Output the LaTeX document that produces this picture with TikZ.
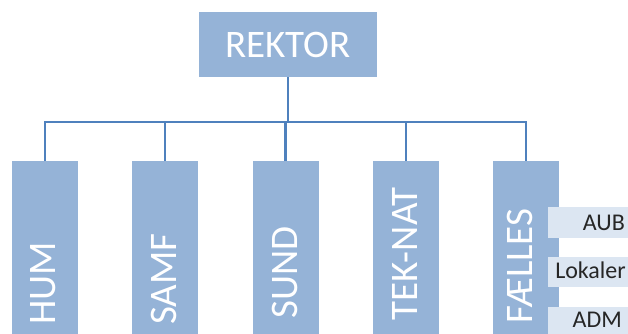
\documentclass[tikz,border=0pt]{standalone}
\usepackage{fontspec}
\setmainfont{Carlito}
\definecolor{unitblue}{HTML}{95B3D7}
\definecolor{linkblue}{HTML}{4F81BD}
\definecolor{subfill}{HTML}{DCE6F2}
\definecolor{subtext}{HTML}{262626}
\tikzset{
  unitbox/.style={fill=unitblue, draw=none, inner sep=0pt, minimum width=66pt, minimum height=240pt, anchor=north},
  unitlabel/.style={text=white, font=\fontsize{39}{39}\selectfont, inner sep=0pt, rotate=90, anchor=west},
  subbox/.style={fill=subfill, draw=none},
  sublabel/.style={text=subtext, font=\fontsize{24}{24}\selectfont, inner sep=0pt, anchor=base east},
  link/.style={draw=linkblue, line width=2.4pt}
}
\begin{document}
\begin{tikzpicture}[x=1pt, y=-1pt]
\useasboundingbox (0,0) rectangle (628,334);
\clip (0,0) rectangle (628,334);

% top node
\node[fill=unitblue, inner sep=0pt, minimum width=178pt, minimum height=65pt,
      text=white, font=\fontsize{39}{39}\selectfont] (rektor) at (288,44.5) {REKTOR};

% faculty columns
\node[unitbox] (hum)    at (45,161)    {};
\node[unitbox] (samf)   at (165,161)   {};
\node[unitbox] (sund)   at (285.5,161) {};
\node[unitbox] (teknat) at (406,161)   {};
\node[unitbox] (faelles) at (526,161)  {};

\node[unitlabel] (humt)    at (43.5,325) {HUM};
\node[unitlabel] (samft)   at (164,325)  {SAMF};
\node[unitlabel] (sundt)   at (285,319)  {SUND};
\node[unitlabel] (teknatt) at (405,321)  {TEK-NAT};
\node[unitlabel] (faellest) at (520,324) {FÆLLES};

% shared units under FÆLLES
\fill[subbox] (548,207) rectangle (640,238);
\fill[subbox] (548,257) rectangle (640,287);
\fill[subbox] (548,307) rectangle (640,345);
\node[sublabel] (aub) at (625,230) {AUB};
\node[sublabel] (lok) at (626,278) {Lokaler};
\node[sublabel] (adm) at (622,327) {ADM};

% connectors
\coordinate (bus) at (0,122);
\draw[link] (rektor.south) -- (rektor.south |- bus);
\draw[link] (hum.north) -- (hum.north |- bus) -- (faelles.north |- bus) -- (faelles.north);
\foreach \u in {samf,sund,teknat}
  \draw[link] (\u.north) -- (\u.north |- bus);
\end{tikzpicture}
\end{document}
